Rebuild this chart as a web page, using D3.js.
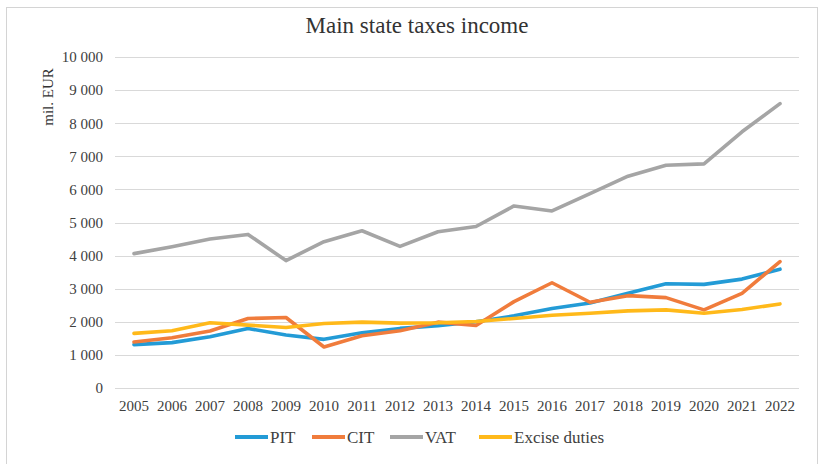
<!DOCTYPE html>
<html><head><meta charset="utf-8">
<script src="https://cdn.jsdelivr.net/npm/d3@7"></script>
<style>body{margin:0;background:#fff;}svg{display:block;} svg text{font-family:"Liberation Serif","Times New Roman",serif !important;}</style>
</head><body><svg id="c" width="821" height="464"></svg>
<script>
const years = ["2005","2006","2007","2008","2009","2010","2011","2012","2013","2014","2015","2016","2017","2018","2019","2020","2021","2022"];
const pit = [1310,1370,1550,1800,1600,1470,1670,1800,1880,2000,2180,2400,2570,2860,3150,3130,3290,3590];
const cit = [1390,1520,1720,2100,2130,1240,1580,1730,1990,1890,2610,3180,2590,2790,2730,2360,2860,3820];
const vat = [4060,4270,4500,4640,3850,4420,4750,4280,4720,4880,5500,5350,5870,6400,6730,6770,7740,8590];
const excise = [1650,1730,1970,1900,1830,1950,1990,1960,1970,2010,2100,2200,2260,2330,2360,2260,2370,2540];
const yTicks = [0,1000,2000,3000,4000,5000,6000,7000,8000,9000,10000];
const seriesNames = ["PIT","CIT","VAT","Excise duties"];
const seriesColors = ["#239BD6","#F07C3C","#A5A5A5","#FFB91A"];
const seriesData = [pit,cit,vat,excise];

const svg = d3.select("#c");
svg.append("rect").attr("x",6.5).attr("y",7.5).attr("width",811).attr("height",470)
  .attr("fill","none").attr("stroke","#d4d4d4").attr("stroke-width",1);

const x = d3.scaleBand().domain(years).range([115,799]);
const y = d3.scaleLinear().domain([0,10000]).range([388,57]);
const fmt = v => d3.format(",")(v).replace(/,/g," ");

svg.append("g").selectAll("line").data(yTicks).join("line")
  .attr("x1",115).attr("x2",799).attr("y1",d=>Math.round(y(d))+0.5).attr("y2",d=>Math.round(y(d))+0.5)
  .attr("stroke","#d9d9d9").attr("stroke-width",1);

const ya = svg.append("g").attr("transform","translate(115,0)")
  .call(d3.axisLeft(y).tickValues(yTicks).tickFormat(fmt).tickSize(0).tickPadding(12));
ya.select(".domain").remove();
ya.selectAll("text").style("font-size","15px").attr("fill","#404040");

const xa = svg.append("g").attr("transform","translate(0,388)")
  .call(d3.axisBottom(x).tickSize(0).tickPadding(12));
xa.select(".domain").remove();
xa.selectAll("text").style("font-size","15px").attr("fill","#404040");

const line = d3.line().x((d,i)=>x(years[i])+x.bandwidth()/2).y(d=>y(d));
seriesData.forEach((s,k)=>{
  svg.append("path").datum(s).attr("d",line).attr("fill","none")
    .attr("stroke",seriesColors[k]).attr("stroke-width",3.6)
    .attr("stroke-linejoin","round").attr("stroke-linecap","round");
});

svg.append("text").attr("x",417).attr("y",33).attr("text-anchor","middle")
  .style("font-size","23px").attr("fill","#333").text("Main state taxes income");
svg.append("text").attr("transform","translate(53,97) rotate(-90)").attr("text-anchor","middle")
  .style("font-size","15px").attr("fill","#333").text("mil. EUR");

const legX = [235,312,390,479];
const lg = svg.append("g");
seriesNames.forEach((n,k)=>{
  lg.append("line").attr("x1",legX[k]).attr("x2",legX[k]+33).attr("y1",437).attr("y2",437)
    .attr("stroke",seriesColors[k]).attr("stroke-width",4);
  lg.append("text").attr("x",legX[k]+35).attr("y",443).style("font-size","17px").attr("fill","#404040").text(n);
});
</script></body></html>
